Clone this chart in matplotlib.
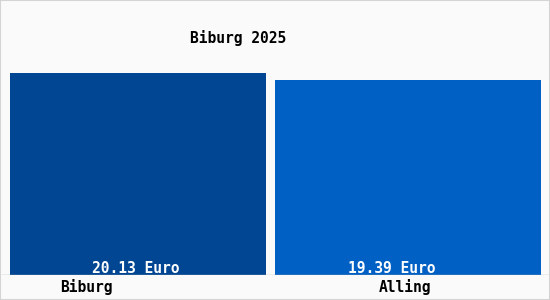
import numpy as np
import matplotlib
matplotlib.use("Agg")
import matplotlib.pyplot as plt
from matplotlib.patches import Rectangle

places = ["Biburg", "Alling"]
values = [20.13, 19.39]
value_labels = ["20.13 Euro", "19.39 Euro"]
title = "Biburg 2025"
colors = ["#004692", "#0060C4"]

W, H = 550, 300
fig = plt.figure(figsize=(W / 100, H / 100), dpi=100, facecolor="#FAFAFA")
fig.patches.append(Rectangle((0, 0), 1, 1, transform=fig.transFigure, fill=False,
                             edgecolor="#D4D4D4", linewidth=1.5))

# axes covers full width, bottom at the baseline (y=275 px from top)
base = 275
ax = fig.add_axes([0, (H - base) / H, 1, base / H])
ax.set_facecolor("none")
px_per_unit = (base - 73) / values[0]
ax.set_ylim(0, base / px_per_unit)
ax.set_xlim(-138 / 270, (W - 138) / 270)

x = np.arange(len(places))
ax.bar(x, values, width=[0.948, 0.985], color=colors, align="center")
for s in ax.spines.values():
    s.set_visible(False)
ax.set_xticks([])
ax.set_yticks([])
ax.axhline(0, color="#B0B0B0", linewidth=1)

font = dict(family="DejaVu Sans Mono", fontsize=10.5, fontweight="bold")
label_dx = [-0.01, -0.06]
for i, lab in enumerate(value_labels):
    ax.text(i + label_dx[i], 0.22, lab, ha="center", va="baseline", color="white", **font)
name_dx = [-0.19, -0.01]
for i, lab in enumerate(places):
    ax.text(i + name_dx[i], -1.15, lab, ha="center", va="center", color="black", **font)

fig.text(238.5 / W, 1 - 38 / H, title, ha="center", va="center", color="black", **font)

fig.savefig("out.png", dpi=100, facecolor=fig.get_facecolor())
